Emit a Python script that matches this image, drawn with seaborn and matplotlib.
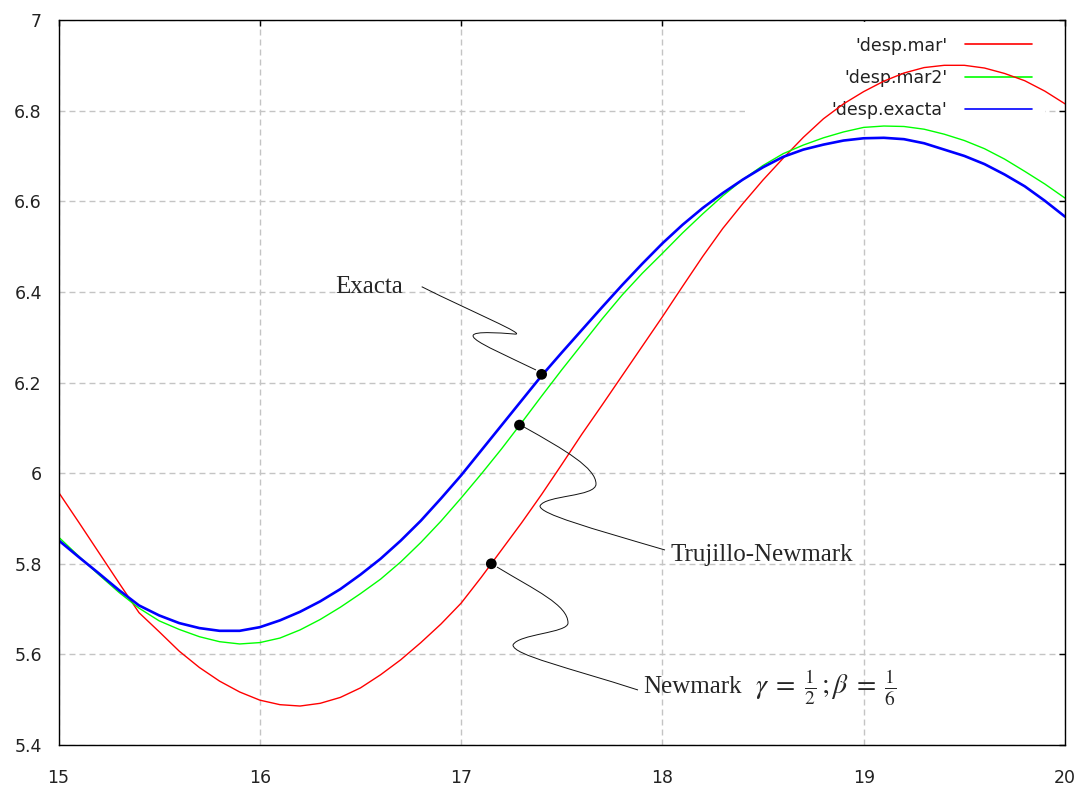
import numpy as np
import pandas as pd
import matplotlib
matplotlib.use("Agg")
import matplotlib.pyplot as plt
import seaborn as sns
from matplotlib.path import Path
from matplotlib.patches import PathPatch, Rectangle
import matplotlib.transforms as mtransforms

# ---------------- data ----------------
t = [15.0, 15.1, 15.2, 15.3, 15.4, 15.5, 15.6, 15.7, 15.8, 15.9,
     16.0, 16.1, 16.2, 16.3, 16.4, 16.5, 16.6, 16.7, 16.8, 16.9,
     17.0, 17.1, 17.2, 17.3, 17.4, 17.5, 17.6, 17.7, 17.8, 17.9,
     18.0, 18.1, 18.2, 18.3, 18.4, 18.5, 18.6, 18.7, 18.8, 18.9,
     19.0, 19.1, 19.2, 19.3, 19.4, 19.5, 19.6, 19.7, 19.8, 19.9, 20.0]

desp_mar = [5.958, 5.892, 5.825, 5.758, 5.692, 5.650, 5.607, 5.571, 5.541, 5.517,
            5.499, 5.489, 5.486, 5.492, 5.505, 5.526, 5.555, 5.588, 5.626, 5.667,
            5.713, 5.770, 5.830, 5.890, 5.953, 6.019, 6.086, 6.150, 6.215, 6.280,
            6.345, 6.412, 6.478, 6.540, 6.595, 6.647, 6.695, 6.741, 6.782, 6.815,
            6.842, 6.865, 6.883, 6.895, 6.900, 6.900, 6.894, 6.882, 6.866, 6.843, 6.815]

desp_mar2 = [5.859, 5.817, 5.776, 5.737, 5.702, 5.674, 5.655, 5.639, 5.628, 5.623,
             5.626, 5.636, 5.654, 5.677, 5.704, 5.734, 5.766, 5.804, 5.847, 5.894,
             5.945, 5.998, 6.053, 6.111, 6.170, 6.228, 6.284, 6.340, 6.393, 6.441,
             6.485, 6.530, 6.572, 6.612, 6.648, 6.679, 6.705, 6.724, 6.740, 6.753,
             6.763, 6.766, 6.765, 6.759, 6.748, 6.734, 6.716, 6.693, 6.666, 6.638, 6.607]

desp_exacta = [5.852, 5.815, 5.779, 5.742, 5.708, 5.686, 5.669, 5.658, 5.652, 5.652,
               5.660, 5.675, 5.694, 5.717, 5.744, 5.776, 5.811, 5.851, 5.895, 5.944,
               5.995, 6.050, 6.105, 6.160, 6.215, 6.266, 6.316, 6.366, 6.415, 6.462,
               6.507, 6.548, 6.585, 6.618, 6.648, 6.675, 6.698, 6.714, 6.725, 6.734,
               6.739, 6.740, 6.737, 6.728, 6.714, 6.700, 6.682, 6.659, 6.633, 6.601, 6.566]

series_names = ["'desp.mar'", "'desp.mar2'", "'desp.exacta'"]
series_colors = ["#ff0000", "#00ff00", "#0000ff"]

# highlighted points (on each curve)
pt_x = [17.40, 17.29, 17.15]
pt_y = [6.218, 6.106, 5.800]

x_ticks = [15, 16, 17, 18, 19, 20]
y_ticks = [5.4, 5.6, 5.8, 6.0, 6.2, 6.4, 6.6, 6.8, 7.0]
y_tick_labels = ["5.4", "5.6", "5.8", "6", "6.2", "6.4", "6.6", "6.8", "7"]

# ---------------- style ----------------
sns.set_theme(style="white")
plt.rcParams["font.family"] = ["DejaVu Sans"]
plt.rcParams["mathtext.fontset"] = "stix"

W, H = 1083, 791
fig = plt.figure(figsize=(W / 100, H / 100), dpi=100)
ax = fig.add_axes([58.5 / W, 46 / H, 1006.5 / W, 725 / H])
ax.set_facecolor("white")

n = len(t)
df = pd.DataFrame({"t": t * 3,
                   "y": desp_mar + desp_mar2 + desp_exacta,
                   "serie": [series_names[0]] * n + [series_names[1]] * n
                            + [series_names[2]] * n})

widths = [1.0, 1.0, 1.9]
for name, col, lw in zip(series_names, series_colors, widths):
    sns.lineplot(data=df[df["serie"] == name], x="t", y="y", color=col,
                 linewidth=lw, label=name, ax=ax, zorder=3, estimator=None,
                 sort=False)

sns.scatterplot(x=pt_x, y=pt_y, color="black", s=60, edgecolor="none",
                ax=ax, zorder=6, legend=False)

ax.set_xlim(15, 20)
ax.set_ylim(5.4, 7.0)
ax.set_xticks(x_ticks)
ax.set_xticklabels([str(v) for v in x_ticks])
ax.set_yticks(y_ticks)
ax.set_yticklabels(y_tick_labels)
ax.set_xlabel("")
ax.set_ylabel("")

ax.grid(True, color="#c4c4c4", linestyle=(0, (4.3, 2.9)), linewidth=1.0)
ax.set_axisbelow(True)
for s in ax.spines.values():
    s.set_color("black")
    s.set_linewidth(1.0)
    s.set_zorder(7)

ax.tick_params(axis="both", which="both", direction="in", length=4.5, width=1.0,
               color="black", top=True, right=True, labelsize=12.5,
               labelcolor="#222222")
ax.tick_params(axis="x", pad=17)
ax.tick_params(axis="y", pad=12)

# opaque key box (hides grid, curves pass over it)
ax.add_patch(Rectangle((0.682, 0.851), 0.298, 0.146, transform=ax.transAxes,
                       facecolor="white", edgecolor="none", zorder=1.5))

leg = ax.legend(loc="upper right", bbox_to_anchor=(0.9672, 0.9772),
                frameon=False, markerfirst=False, fontsize=12.5,
                handlelength=3.85, handletextpad=1.04, labelspacing=0.82,
                borderpad=0.0, borderaxespad=0.0)
leg.set_zorder(1.6)
for txt in leg.get_texts():
    txt.set_color("#222222")
for h in leg.get_lines():
    h.set_linewidth(1.2)

# ---------------- annotations ----------------
serif = ["Liberation Serif", "DejaVu Serif"]
ax.text(16.374, 6.398, "Exacta", family=serif, fontsize=18, ha="left",
        va="baseline", zorder=8)
ax.text(18.038, 5.806, "Trujillo-Newmark", family=serif, fontsize=18, ha="left",
        va="baseline", zorder=8)
ax.text(17.904, 5.514, "Newmark", family=serif, fontsize=18, ha="left",
        va="baseline", zorder=8)
ax.text(18.46, 5.514, r"$\gamma\;=\;\frac{1}{2}\,;\beta\;=\;\frac{1}{6}$",
        fontsize=20, ha="left", va="baseline", zorder=8)

connectors = [
    [(421.7, 286.7), (470, 311), (530, 336), (514, 334),
     (440, 328), (478, 342), (536, 370)],
    [(524, 427), (565, 450), (596, 468), (596, 484),
     (596, 497), (545, 495), (540, 506),
     (540, 514), (590, 528), (665, 550)],
    [(497, 567), (535, 590), (568, 605), (568, 623),
     (568, 633), (518, 634), (513, 645),
     (513, 655), (570, 668), (638, 690)],
]
pix = mtransforms.Affine2D().scale(1, -1).translate(0, H)
for pts in connectors:
    codes = [Path.MOVETO] + [Path.CURVE4] * (len(pts) - 1)
    ax.add_patch(PathPatch(Path(pts, codes), transform=pix, facecolor="none",
                           edgecolor="#111111", linewidth=0.7, zorder=5,
                           clip_on=False))

fig.savefig("out.png", dpi=100)
